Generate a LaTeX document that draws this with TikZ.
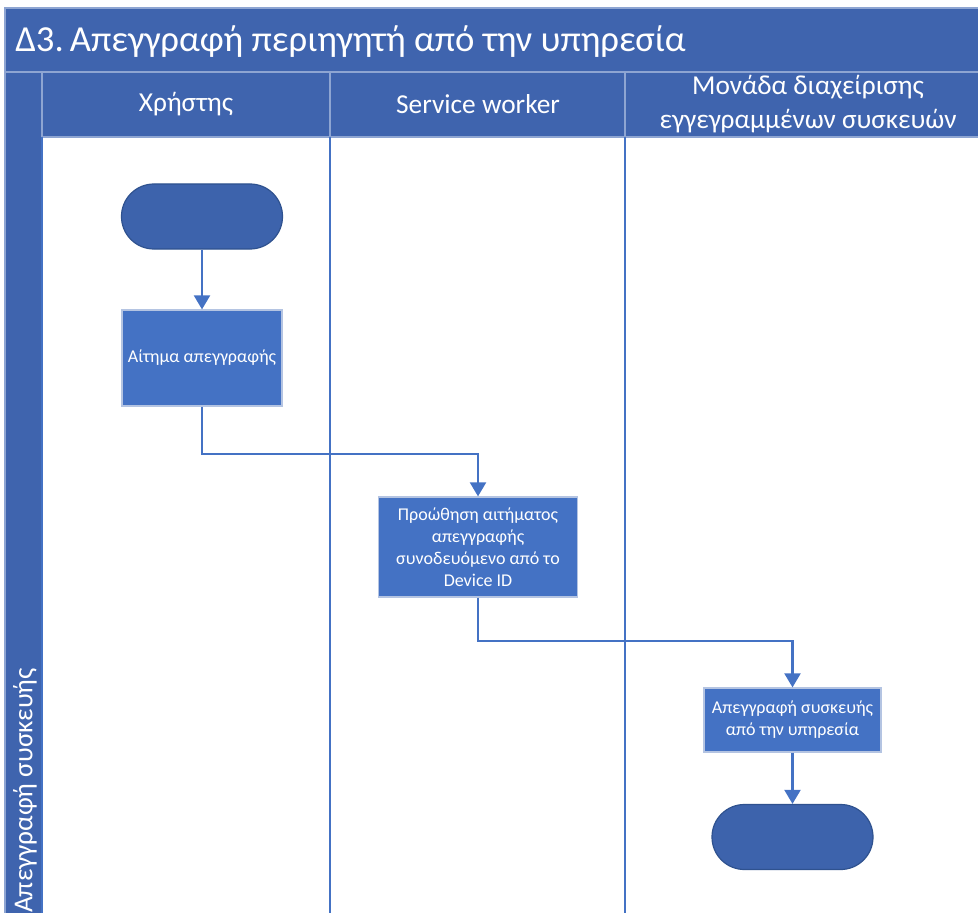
\documentclass[tikz,border=0pt]{standalone}
\usepackage{fontspec}
\setmainfont{Carlito}
\usetikzlibrary{arrows.meta,positioning}
\definecolor{lanefill}{HTML}{3F64AE}
\definecolor{laneedge}{HTML}{8EA5D2}
\definecolor{procfill}{HTML}{4472C4}
\definecolor{procedge}{HTML}{B4C4E2}
\definecolor{termfill}{HTML}{3D63AC}
\definecolor{termedge}{HTML}{2F528F}
\definecolor{flow}{HTML}{4472C4}
\tikzset{
  proc/.style={rectangle, fill=procfill, draw=procedge, line width=0.9pt,
    text=white, align=center, inner sep=0pt, font=\fontsize{13.5}{16.6}\selectfont},
  term/.style={rectangle, rounded corners=24.3pt, fill=termfill, draw=termedge,
    line width=0.9pt, minimum width=120.75pt, minimum height=48.75pt, inner sep=0pt},
  conn/.style={draw=flow, line width=1.6pt, -{Triangle[length=10.5pt,width=12pt]}},
  lanehead/.style={text=white, align=center, font=\fontsize{20.5}{25}\selectfont},
  laneline/.style={draw=flow, line width=1.3pt},
}
\begin{document}
\begin{tikzpicture}[x=0.75pt,y=-0.75pt]
\useasboundingbox (0,0) rectangle (978,913);
\begin{scope}
\clip (0,0) rectangle (978,913);
% pool title bar, lane header row and the rotated phase strip
\fill[lanefill] (5,8) rectangle (990,72);
\fill[lanefill] (5,72) rectangle (990,137);
\fill[lanefill] (5,137) rectangle (42,930);
\draw[laneedge, line width=1pt] (5,930) -- (5,8) -- (990,8);
\draw[laneedge, line width=1pt] (5,72) -- (990,72);
\draw[laneedge, line width=1pt] (42,137) -- (990,137);
\draw[laneedge, line width=1pt] (42,72) -- (42,137);
\draw[laneedge, line width=1pt] (330,72) -- (330,137);
\draw[laneedge, line width=1pt] (625,72) -- (625,137);
% lane separators
\draw[laneline] (42,137) -- (42,930);
\draw[laneline] (330,137) -- (330,930);
\draw[laneline] (625,137) -- (625,930);
% texts of the pool
\node[anchor=west, text=white, inner sep=0pt, font=\fontsize{27.5}{32}\selectfont] (title) at (15,42) {Δ3.\,Απεγγραφή περιηγητή από την υπηρεσία};
\node[lanehead] (h1) at (186,104) {Χρήστης};
\node[lanehead] (h2) at (478,104) {Service worker};
\node[lanehead] (h3) at (808,104) {Μονάδα διαχείρισης\\εγγεγραμμένων συσκευών};
\node[lanehead, rotate=90, anchor=east, inner sep=0pt] (phase) at (25,668) {Απεγγραφή συσκευής};
% flow nodes
\node[term] (start) at (202,216.5) {};
\node[proc, minimum width=120pt, minimum height=72pt] (r1) at (202,358) {Αίτημα απεγγραφής};
\node[proc, minimum width=149.25pt, minimum height=75pt] (r2) at (478,547) {Προώθηση αιτήματος\\απεγγραφής\\συνοδευόμενο από το\\Device ID};
\node[proc, minimum width=132.75pt, minimum height=48pt] (r3) at (792.5,720) {Απεγγραφή συσκευής\\από την υπηρεσία};
\node[term] (end) at (792.5,837) {};
% connectors
\draw[conn] (start) -- (r1);
\draw[conn] (r1.south) -- ++(0,47) -| (r2.north);
\draw[conn] (r2.south) -- ++(0,43) -| (r3.north);
\draw[conn] (r3) -- (end);
\end{scope}
\end{tikzpicture}
\end{document}
